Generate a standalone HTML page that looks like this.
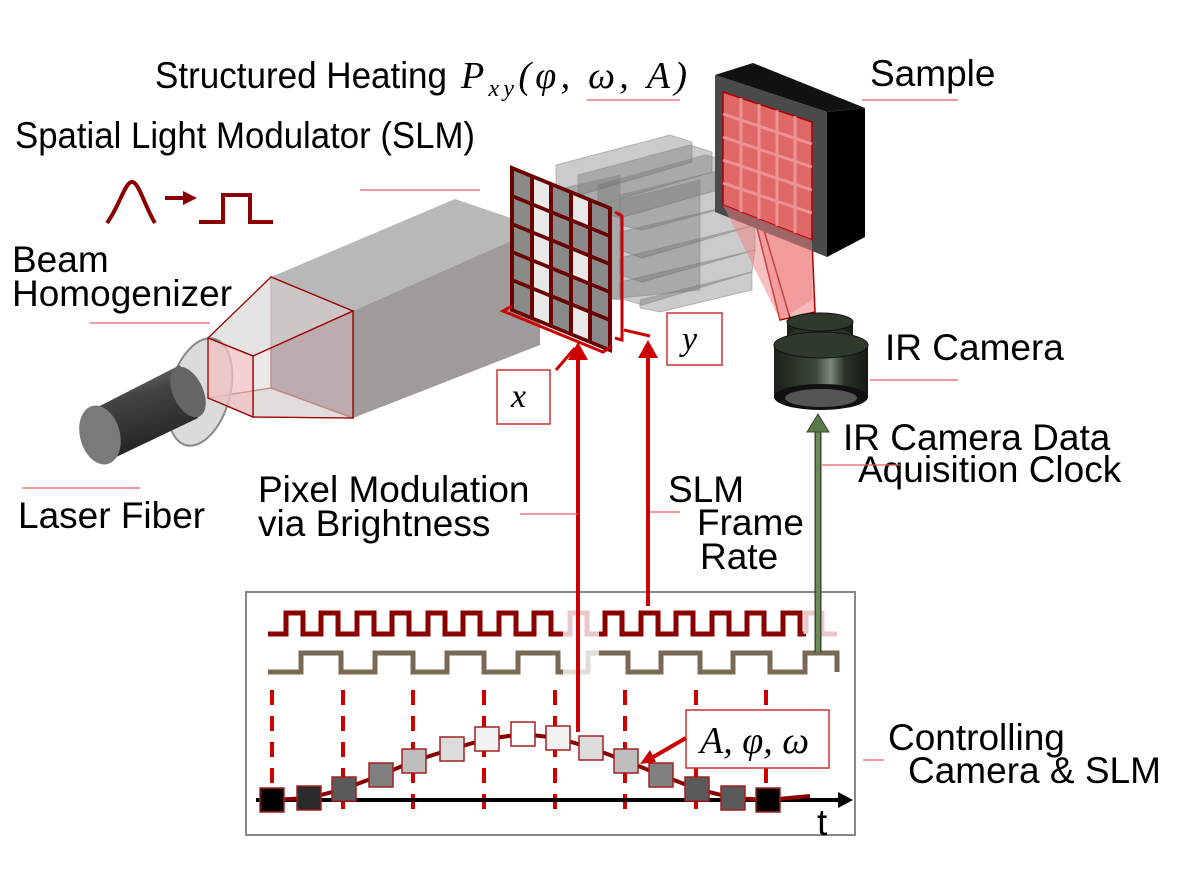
<!DOCTYPE html>
<html><head><meta charset="utf-8"><style>
html,body{margin:0;padding:0;background:#fff}
svg{display:block}
.t{font-family:"Liberation Sans",sans-serif;font-size:37px;fill:#000}
.m{font-family:"Liberation Serif",serif;font-style:italic;fill:#000}
.ul{stroke:#e06060;stroke-width:1.3}
</style></head><body>
<svg width="1200" height="879" viewBox="0 0 1200 879" xmlns="http://www.w3.org/2000/svg">
<defs>
<linearGradient id="cyl" x1="0" y1="0" x2="0.3" y2="1">
<stop offset="0" stop-color="#888"/><stop offset="0.4" stop-color="#444"/><stop offset="1" stop-color="#222"/></linearGradient>
<linearGradient id="cam" x1="0" y1="0" x2="1" y2="0">
<stop offset="0" stop-color="#1a2018"/><stop offset="0.45" stop-color="#3e4a3c"/><stop offset="0.6" stop-color="#7a8a78"/><stop offset="0.75" stop-color="#2a3428"/><stop offset="1" stop-color="#141a12"/></linearGradient>
</defs>

<!-- ghost prisms -->
<g fill="#6a6a6a" fill-opacity="0.35" stroke="#888" stroke-opacity="0.5" stroke-width="1">
<polygon points="556,165 670,135 692,142 692,162 580,195 556,190"/>
<polygon points="578,175 690,145 712,152 712,172 600,205 578,200"/>
<polygon points="598,185 705,155 735,162 735,185 620,218 598,212"/>
<polygon points="620,195 730,168 755,175 755,200 642,230 620,225"/>
<polygon points="620,232 755,200 755,225 642,258 620,250"/>
<polygon points="620,258 755,225 755,250 642,282 620,275"/>
<polygon points="620,282 755,250 752,272 642,305 620,298"/>
<polygon points="640,300 752,272 752,290 660,312 640,308"/>
<polygon points="556,190 620,175 620,300 556,290"/>
<polygon points="600,205 700,180 700,290 600,300"/>
</g>

<!-- light cone sample -> camera -->
<polygon points="723,92 812,125 812,240 815,312 780,320" fill="#f08080" fill-opacity="0.55" stroke="#a00" stroke-width="1.5"/>
<line x1="723" y1="92" x2="790" y2="318" stroke="#900" stroke-width="1.5"/>

<!-- sample box -->
<polygon points="715,75 753,63 865,108 827,112" fill="#111"/>
<polygon points="827,112 865,108 865,237 827,257" fill="#000"/>
<polygon points="715,75 827,112 827,257 715,212" fill="#4a4a4a"/>
<polygon points="723,92 812,122 812,240 723,205" fill="#e06868" stroke="#a00" stroke-width="1.5"/>
<g stroke="#f0a0a0" stroke-width="3" opacity="0.8">
<line x1="741" y1="98" x2="741" y2="212"/><line x1="759" y1="104" x2="759" y2="219"/><line x1="777" y1="110" x2="777" y2="226"/><line x1="795" y1="116" x2="795" y2="233"/>
<line x1="723" y1="114" x2="812" y2="144"/><line x1="723" y1="137" x2="812" y2="167"/><line x1="723" y1="160" x2="812" y2="190"/><line x1="723" y1="183" x2="812" y2="213"/>
</g>
<polygon points="723,205 812,240 812,300 780,320" fill="#f08080" fill-opacity="0.5"/>

<!-- camera -->
<rect x="787" y="322" width="66" height="15" fill="url(#cam)"/>
<ellipse cx="820" cy="337" rx="33" ry="9" fill="#2a3428"/>
<ellipse cx="820" cy="322" rx="33" ry="9" fill="#2f3a2d" stroke="#111"/>
<rect x="774" y="345" width="94" height="52" fill="url(#cam)"/>
<ellipse cx="821" cy="345" rx="47" ry="13" fill="#2f3a2d" stroke="#111"/>
<ellipse cx="821" cy="397" rx="47" ry="13" fill="#111"/>
<ellipse cx="821" cy="398" rx="36" ry="9" fill="#555"/>

<!-- homogenizer prism -->
<polygon points="271,277 455,199 540,228 353,311" fill="#b8b8b8"/>
<polygon points="353,311 540,228 540,345 353,418" fill="#9a9698" fill-opacity="0.95"/>
<polygon points="271,277 353,311 353,418 271,388" fill="#8a6a6c" stroke="#900" stroke-width="1.3"/>
<!-- frustum -->
<polygon points="208,338 271,277 353,311 253,356" fill="#ddd" fill-opacity="0.8" stroke="#900" stroke-width="1.3"/>
<polygon points="208,398 271,388 353,418 253,417" fill="#ddd" fill-opacity="0.8" stroke="#900" stroke-width="1.3"/>
<polygon points="253,356 353,311 353,418 253,417" fill="#e0d8d8" fill-opacity="0.6" stroke="#900" stroke-width="1.3"/>
<!-- fiber -->
<ellipse cx="200" cy="392" rx="30" ry="55" transform="rotate(15 200 392)" fill="#ccc" fill-opacity="0.7" stroke="#888" stroke-width="2"/>
<polygon points="88,412 180,365 198,418 110,460" fill="url(#cyl)"/>
<ellipse cx="188" cy="392" rx="15" ry="27" transform="rotate(-25 188 392)" fill="#666"/>
<ellipse cx="100" cy="435" rx="20" ry="30" transform="rotate(-15 100 435)" fill="#7a7a7a"/>
<polygon points="208,338 253,356 253,417 208,398" fill="#f0c0c0" fill-opacity="0.75" stroke="#900" stroke-width="1.3"/>

<!-- SLM grid -->
<g transform="matrix(1,0.41,0,1,512,168)">
<rect x="0" y="0" width="98" height="142" fill="#8a8a8a"/>
<g fill="#e8e8e8">
<rect x="20" y="0" width="19" height="142"/><rect x="59" y="0" width="19" height="28"/><rect x="59" y="56" width="19" height="28"/><rect x="59" y="112" width="19" height="30"/>
</g>
<g stroke="#6a0000" stroke-width="4" fill="none">
<rect x="0" y="0" width="98" height="142"/>
<line x1="20" y1="0" x2="20" y2="142"/><line x1="39" y1="0" x2="39" y2="142"/><line x1="59" y1="0" x2="59" y2="142"/><line x1="78" y1="0" x2="78" y2="142"/>
<line x1="0" y1="28" x2="98" y2="28"/><line x1="0" y1="56" x2="98" y2="56"/><line x1="0" y1="84" x2="98" y2="84"/><line x1="0" y1="112" x2="98" y2="112"/>
</g>
</g>
<!-- brackets -->
<polyline points="512,306 503,311 603,352 612,346" fill="none" stroke="#c00" stroke-width="3"/>
<polyline points="556,370 575,348" stroke="#c00" stroke-width="3"/>
<polyline points="615,212 622,216 622,340 615,338" fill="none" stroke="#c00" stroke-width="3"/>
<line x1="624" y1="330" x2="650" y2="336" stroke="#c00" stroke-width="3"/>

<!-- labels boxes -->
<rect x="497" y="370" width="53" height="54" fill="#fff" stroke="#c33" stroke-width="1.5"/>
<text x="511" y="407" class="m" font-size="34">x</text>
<rect x="667" y="313" width="55" height="52" fill="#fff" stroke="#c33" stroke-width="1.5"/>
<text x="682" y="350" class="m" font-size="34">y</text>

<!-- gaussian -> pulse -->
<g stroke="#8b0000" stroke-width="4" fill="none">
<path d="M107,223 C120,205 125,182 132,182 C139,182 144,205 155,223"/>
<line x1="165" y1="198" x2="185" y2="198"/>
<polyline points="199,222 223,222 223,195 250,195 250,222 273,222"/>
</g>
<polygon points="183,191 197,198 183,205" fill="#8b0000"/>

<!-- timing panel -->
<rect x="246" y="592" width="609" height="243" fill="#fff" stroke="#888" stroke-width="2"/>
<path d="M268,634 H286 V613 H303 V634 H321 V613 H338 V634 H357 V613 H374 V634 H392 V613 H409 V634 H428 V613 H445 V634 H463 V613 H480 V634 H499 V613 H516 V634 H534 V613 H551 V634 H563" fill="none" stroke="#8b0000" stroke-width="5"/>
<path d="M563,634 H570 V613 H587 V634 H599" fill="none" stroke="#e8c8c8" stroke-width="5"/>
<path d="M599,634 H605 V613 H622 V634 H641 V613 H658 V634 H676 V613 H693 V634 H712 V613 H729 V634 H747 V613 H764 V634 H783 V613 H800 V634 H806" fill="none" stroke="#8b0000" stroke-width="5"/>
<path d="M806,634 V613 H822 V634 H837" fill="none" stroke="#e8c8c8" stroke-width="5"/>
<path d="M268,672 H301 V653 H341 V672 H375 V653 H413 V672 H447 V653 H484 V672 H518 V653 H558 V672 H563" fill="none" stroke="#7a6a55" stroke-width="5"/>
<path d="M563,672 H588 V653 H599" fill="none" stroke="#e0dcd6" stroke-width="5"/>
<path d="M599,653 H628 V672 H661 V653 H700 V672 H733 V653 H770 V672 H805 V653 H837 V672" fill="none" stroke="#7a6a55" stroke-width="5"/>
<g stroke="#c00" stroke-width="4" stroke-dasharray="15,11">
<line x1="272" y1="690" x2="272" y2="812"/><line x1="343" y1="690" x2="343" y2="812"/><line x1="413" y1="690" x2="413" y2="812"/><line x1="484" y1="690" x2="484" y2="812"/><line x1="555" y1="690" x2="555" y2="812"/><line x1="625" y1="690" x2="625" y2="812"/><line x1="696" y1="690" x2="696" y2="812"/><line x1="766" y1="690" x2="766" y2="812"/>
</g>
<line x1="256" y1="800" x2="840" y2="800" stroke="#000" stroke-width="4"/>
<polygon points="838,792 853,800 838,808" fill="#000"/>
<text x="817" y="835" class="t" font-size="34">t</text>
<path d="M272,800 L309,798 L344,789 L381,775 L414,761 L452,749 L487,739 L523,734 L558,738 L591,748 L626,761 L661,775 L697,789 L733,798 L768,800 L810,796" fill="none" stroke="#8b0000" stroke-width="4"/>
<g stroke="#a02020" stroke-width="1.5">
<rect x="260" y="788" width="24" height="24" fill="#000"/>
<rect x="297" y="786" width="24" height="24" fill="#2a2a2a"/>
<rect x="332" y="777" width="24" height="24" fill="#5a5a5a"/>
<rect x="369" y="763" width="24" height="24" fill="#808080"/>
<rect x="402" y="749" width="24" height="24" fill="#bebebe"/>
<rect x="440" y="737" width="24" height="24" fill="#dcdcdc"/>
<rect x="475" y="727" width="24" height="24" fill="#f2f2f2"/>
<rect x="511" y="722" width="24" height="24" fill="#fff"/>
<rect x="546" y="726" width="24" height="24" fill="#f2f2f2"/>
<rect x="579" y="736" width="24" height="24" fill="#dcdcdc"/>
<rect x="614" y="749" width="24" height="24" fill="#bebebe"/>
<rect x="649" y="763" width="24" height="24" fill="#808080"/>
<rect x="685" y="777" width="24" height="24" fill="#5a5a5a"/>
<rect x="721" y="786" width="24" height="24" fill="#5a5a5a"/>
<rect x="756" y="788" width="24" height="24" fill="#000"/>
</g>
<rect x="686" y="710" width="143" height="58" fill="#fff" stroke="#c33" stroke-width="1.5"/>
<text x="700" y="753" class="m" font-size="38">A, φ, ω</text>
<line x1="686" y1="738" x2="648" y2="760" stroke="#c00" stroke-width="4"/>
<polygon points="640,764 650,750 656,762" fill="#c00"/>

<!-- vertical arrows -->
<line x1="578" y1="732" x2="578" y2="358" stroke="#c00" stroke-width="4"/>
<polygon points="568,360 578,342 588,360" fill="#c00"/>
<line x1="648" y1="606" x2="648" y2="356" stroke="#c00" stroke-width="4"/>
<polygon points="638,358 648,340 658,358" fill="#c00"/>
<line x1="818" y1="652" x2="818" y2="428" stroke="#3a4a30" stroke-width="7"/>
<line x1="818" y1="652" x2="818" y2="428" stroke="#6a8a5a" stroke-width="4"/>
<polygon points="807,432 818,414 829,432" fill="#5a7a4a" stroke="#3a4a30"/>

<!-- text labels -->
<text x="155" y="88" class="t" font-size="35" textLength="292" lengthAdjust="spacingAndGlyphs">Structured Heating</text>
<text x="461" y="88" class="m" font-size="38" textLength="226" lengthAdjust="spacing">P<tspan font-size="24" dy="8">xy</tspan><tspan dy="-8">(φ, ω, A)</tspan></text>
<line x1="587" y1="100" x2="680" y2="100" class="ul"/>
<text x="870" y="86" class="t">Sample</text>
<line x1="862" y1="100" x2="958" y2="100" class="ul"/>
<text x="15" y="148" class="t" font-size="35" textLength="460" lengthAdjust="spacingAndGlyphs">Spatial Light Modulator (SLM)</text>
<line x1="360" y1="190" x2="480" y2="190" class="ul"/>
<text x="12" y="272" class="t">Beam</text>
<text x="12" y="306" class="t">Homogenizer</text>
<line x1="90" y1="323" x2="210" y2="323" class="ul"/>
<text x="885" y="360" class="t">IR Camera</text>
<line x1="870" y1="380" x2="958" y2="380" class="ul"/>
<text x="18" y="528" class="t">Laser Fiber</text>
<line x1="22" y1="488" x2="140" y2="488" class="ul"/>
<text x="258" y="502" class="t">Pixel Modulation</text>
<text x="258" y="536" class="t">via Brightness</text>
<line x1="520" y1="514" x2="578" y2="514" class="ul"/>
<text x="668" y="502" class="t">SLM</text>
<text x="697" y="535" class="t">Frame</text>
<text x="700" y="569" class="t">Rate</text>
<line x1="650" y1="512" x2="680" y2="512" class="ul"/>
<text x="843" y="450" class="t">IR Camera Data</text>
<text x="858" y="482" class="t">Aquisition Clock</text>
<line x1="822" y1="465" x2="900" y2="465" class="ul"/>
<text x="888" y="750" class="t">Controlling</text>
<text x="908" y="783" class="t">Camera &amp; SLM</text>
<line x1="863" y1="760" x2="884" y2="760" class="ul"/>
</svg>
</body></html>
